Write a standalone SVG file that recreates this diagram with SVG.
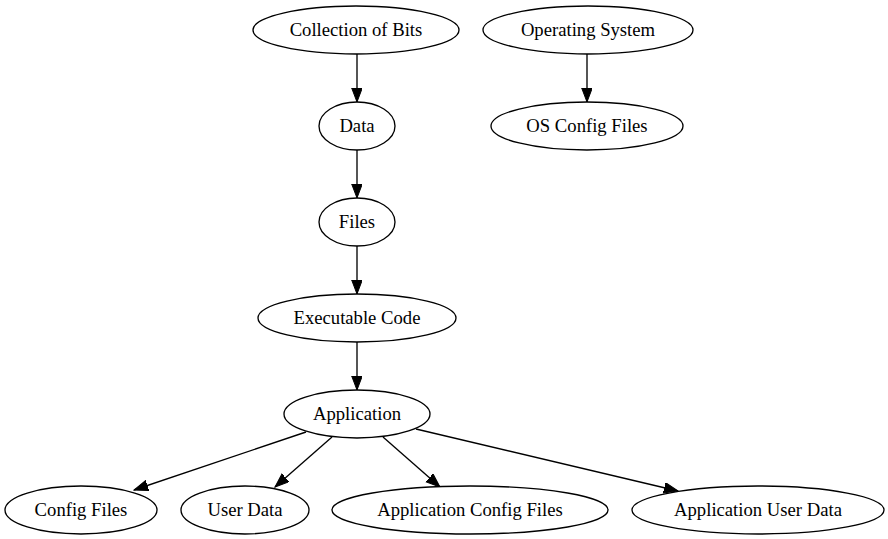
<svg xmlns="http://www.w3.org/2000/svg" width="888" height="539" viewBox="0 0 888 539">
<style>
.n ellipse{fill:#fff;stroke:#000;stroke-width:1.33}
.n text{font-family:"Liberation Serif","Times New Roman",serif;font-size:18.67px;text-anchor:middle;fill:#000}
#edges line{stroke:#000;stroke-width:1.33;marker-end:url(#ah)}
</style>
<defs>
<marker id="ah" markerUnits="userSpaceOnUse" markerWidth="15" markerHeight="12" refX="14" refY="5.3" orient="auto">
<path d="M0,0 L14,5.3 L0,10.6 z" fill="#000" stroke="#000" stroke-width="1"/>
</marker>
</defs>
<rect width="888" height="539" fill="#fff"/>
<g id="edges">
<line x1="357" y1="54" x2="357" y2="102"/>
<line x1="357" y1="150" x2="357" y2="198"/>
<line x1="357" y1="246" x2="357" y2="294"/>
<line x1="357" y1="342" x2="357" y2="390"/>
<line x1="587" y1="54" x2="587" y2="102"/>
<line x1="306" y1="432" x2="134" y2="490"/>
<line x1="332" y1="437" x2="275" y2="487"/>
<line x1="383" y1="437" x2="440" y2="487"/>
<line x1="416" y1="429" x2="678" y2="491"/>
</g>
<g id="collection" class="n"><ellipse cx="356" cy="30" rx="103" ry="24"/><text x="356" y="36">Collection of Bits</text></g>
<g id="os" class="n"><ellipse cx="588" cy="30" rx="105" ry="24"/><text x="588" y="36">Operating System</text></g>
<g id="data" class="n"><ellipse cx="357" cy="126" rx="38" ry="24"/><text x="357" y="132">Data</text></g>
<g id="osconfig" class="n"><ellipse cx="587" cy="126" rx="96" ry="24"/><text x="587" y="132">OS Config Files</text></g>
<g id="files" class="n"><ellipse cx="357" cy="222" rx="38" ry="24"/><text x="357" y="228">Files</text></g>
<g id="exec" class="n"><ellipse cx="357" cy="318" rx="99" ry="24"/><text x="357" y="324">Executable Code</text></g>
<g id="app" class="n"><ellipse cx="357" cy="414" rx="73" ry="24"/><text x="357" y="420">Application</text></g>
<g id="config" class="n"><ellipse cx="81" cy="510" rx="76" ry="24"/><text x="81" y="516">Config Files</text></g>
<g id="userdata" class="n"><ellipse cx="245" cy="510" rx="64" ry="24"/><text x="245" y="516">User Data</text></g>
<g id="appconfig" class="n"><ellipse cx="470" cy="510" rx="138" ry="24"/><text x="470" y="516">Application Config Files</text></g>
<g id="appuser" class="n"><ellipse cx="758" cy="510" rx="126" ry="24"/><text x="758" y="516">Application User Data</text></g>
</svg>
